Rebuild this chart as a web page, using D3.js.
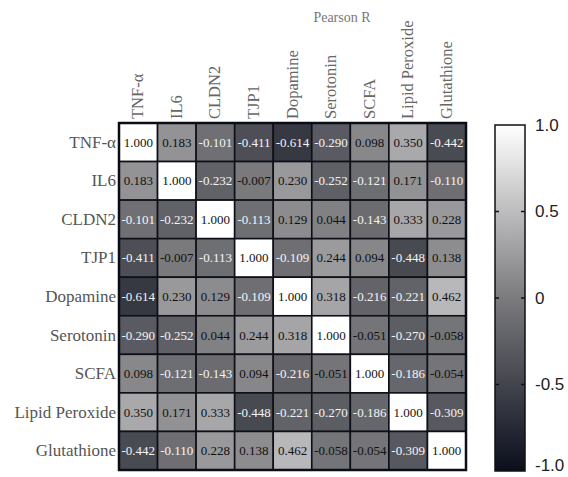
<!DOCTYPE html>
<html><head><meta charset="utf-8">
<script src="https://cdn.jsdelivr.net/npm/d3@7"></script>
<style>body{margin:0;background:#fff;}svg{display:block;}</style>
</head><body>
<svg id="c" width="568" height="477"></svg>
<script>
const variables = ["TNF-α","IL6","CLDN2","TJP1","Dopamine","Serotonin","SCFA","Lipid Peroxide","Glutathione"];
const rowTNF  = [1.000, 0.183, -0.101, -0.411, -0.614, -0.290, 0.098, 0.350, -0.442];
const rowIL6  = [0.183, 1.000, -0.232, -0.007, 0.230, -0.252, -0.121, 0.171, -0.110];
const rowCLDN2= [-0.101, -0.232, 1.000, -0.113, 0.129, 0.044, -0.143, 0.333, 0.228];
const rowTJP1 = [-0.411, -0.007, -0.113, 1.000, -0.109, 0.244, 0.094, -0.448, 0.138];
const rowDopa = [-0.614, 0.230, 0.129, -0.109, 1.000, 0.318, -0.216, -0.221, 0.462];
const rowSero = [-0.290, -0.252, 0.044, 0.244, 0.318, 1.000, -0.051, -0.270, -0.058];
const rowSCFA = [0.098, -0.121, -0.143, 0.094, -0.216, -0.051, 1.000, -0.186, -0.054];
const rowLipid= [0.350, 0.171, 0.333, -0.448, -0.221, -0.270, -0.186, 1.000, -0.309];
const rowGluta= [-0.442, -0.110, 0.228, 0.138, 0.462, -0.058, -0.054, -0.309, 1.000];
const matrix = [rowTNF,rowIL6,rowCLDN2,rowTJP1,rowDopa,rowSero,rowSCFA,rowLipid,rowGluta];
const colorbarTicks = [1.0, 0.5, 0, -0.5, -1.0];
const colorbarTickLabels = ["1.0","0.5","0","-0.5","-1.0"];
const title = "Pearson R";

const svg = d3.select("#c");
const mLeft = 119, mTop = 123, mSize = 347;
const x = d3.scaleBand().domain(variables).range([mLeft, mLeft+mSize]);
const y = d3.scaleBand().domain(variables).range([mTop, mTop+mSize]);
const color = d3.scaleLinear().domain([-1, 0, 1]).range(["#0a0e1c", "#7b7b7e", "#ffffff"]);
const fmt = d3.formatLocale({decimal: ".", thousands: ",", grouping: [3], currency: ["", ""], minus: "-"}).format(".3f");

const cells = [];
matrix.forEach((row, i) => row.forEach((v, j) => cells.push({r: variables[i], c: variables[j], v})));

const g = svg.append("g");
g.selectAll("rect.cell").data(cells).join("rect")
  .attr("class","cell")
  .attr("x", d => x(d.c)).attr("y", d => y(d.r))
  .attr("width", x.bandwidth()).attr("height", y.bandwidth())
  .attr("fill", d => color(d.v))
  .attr("stroke", "#0d1018").attr("stroke-width", 1.6);

g.selectAll("text.val").data(cells).join("text")
  .attr("class","val")
  .attr("x", d => x(d.c) + x.bandwidth()/2)
  .attr("y", d => y(d.r) + y.bandwidth()/2)
  .attr("text-anchor","middle").attr("dominant-baseline","central")
  .attr("font-family","'Liberation Serif', 'DejaVu Serif', serif")
  .attr("font-size", 13)
  .attr("fill", d => d.v < -0.08 ? "#f4f4f4" : "#111")
  .text(d => fmt(d.v));

svg.append("rect").attr("x", mLeft).attr("y", mTop).attr("width", mSize).attr("height", mSize)
  .attr("fill","none").attr("stroke","#0a0d16").attr("stroke-width", 2.5);

svg.selectAll("text.row").data(variables).join("text")
  .attr("class","row")
  .attr("x", mLeft - 3).attr("y", d => y(d) + y.bandwidth()/2)
  .attr("text-anchor","end").attr("dominant-baseline","central")
  .attr("font-family","'Liberation Serif', serif").attr("font-size", 17)
  .attr("fill", "#555").text(d => d);

svg.selectAll("text.col").data(variables).join("text")
  .attr("class","col")
  .attr("transform", d => `translate(${x(d) + x.bandwidth()/2 + 5},${mTop - 4}) rotate(-90)`)
  .attr("text-anchor","start")
  .attr("font-family","'Liberation Serif', serif").attr("font-size", 16.5)
  .attr("fill", "#666").text(d => d);

svg.append("text").attr("x", 342).attr("y", 22).attr("text-anchor","middle")
  .attr("font-family","'Liberation Serif', serif").attr("font-size", 14)
  .attr("fill","#777").text(title);

const cbx = 495, cbw = 30, cbTop = 125, cbBot = 471;
const cy = d3.scaleLinear().domain([-1, 1]).range([cbBot, cbTop]);
const defs = svg.append("defs");
const grad = defs.append("linearGradient").attr("id","cbgrad")
  .attr("x1","0").attr("y1","1").attr("x2","0").attr("y2","0");
d3.range(0, 1.0001, 0.1).forEach(t => {
  grad.append("stop").attr("offset", t).attr("stop-color", color(-1 + 2*t));
});
svg.append("rect").attr("x", cbx).attr("y", cbTop).attr("width", cbw).attr("height", cbBot - cbTop)
  .attr("fill","url(#cbgrad)").attr("stroke","#111").attr("stroke-width", 1.5);
colorbarTicks.forEach((t, i) => {
  if (Math.abs(t) < 1) {
    svg.append("line").attr("x1", cbx).attr("x2", cbx+4).attr("y1", cy(t)).attr("y2", cy(t))
      .attr("stroke","#111").attr("stroke-width",1.5);
    svg.append("line").attr("x1", cbx+cbw-4).attr("x2", cbx+cbw).attr("y1", cy(t)).attr("y2", cy(t))
      .attr("stroke","#111").attr("stroke-width",1.5);
  }
  svg.append("text").attr("x", cbx + cbw + 10).attr("y", Math.min(cy(t), 465)).attr("dominant-baseline","central")
    .attr("font-family","'Liberation Sans', Arial, sans-serif").attr("font-size", 17)
    .attr("fill","#222").text(colorbarTickLabels[i]);
});
</script>
</body></html>
